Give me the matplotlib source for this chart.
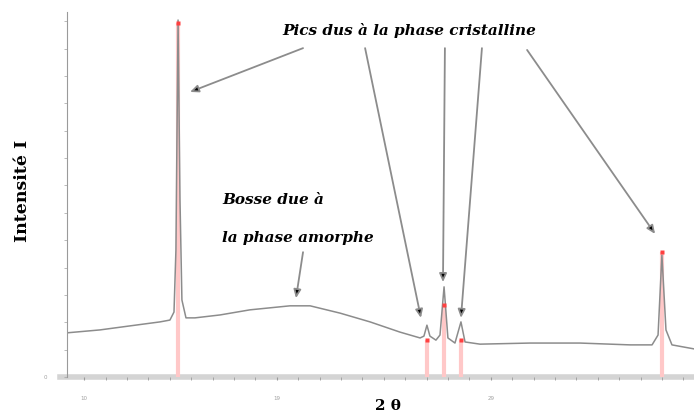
import numpy as np
import matplotlib.pyplot as plt
from matplotlib.ticker import FixedLocator, MultipleLocator

# diffractogramme : 2 theta (deg) et intensite (u.a.)
two_theta = [9.20, 10.74, 12.14, 13.55, 14.01, 14.20, 14.29, 14.39, 14.48, 14.57,
             14.76, 15.18, 16.35, 17.75, 19.62, 20.56, 21.96, 23.36, 24.76, 25.70,
             25.88, 26.02, 26.16, 26.44, 26.63, 26.82, 27.00, 27.33, 27.61, 27.80,
             28.50, 30.84, 33.17, 35.51, 36.54, 36.82, 37.00, 37.19, 37.47, 38.50]
intensity = [12.1, 12.9, 14.0, 15.1, 15.6, 17.8, 34.8, 97.8, 48.5, 21.1,
             16.2, 16.2, 17.0, 18.4, 19.5, 19.5, 17.5, 15.1, 12.3, 10.7,
             11.2, 14.2, 11.2, 10.1, 11.5, 24.7, 10.7, 9.3, 15.1, 9.6,
             9.0, 9.3, 9.3, 8.8, 8.8, 11.5, 33.4, 12.9, 8.8, 7.7]

# raies de reference (phase cristalline)
ref_pos = [14.39, 26.02, 26.82, 27.61, 37.00]
ref_int = [97.0, 10.2, 19.7, 10.2, 34.2]

xtick_pos = [10, 19, 29]
xtick_lab = ["10", "19", "29"]

plt.rcParams['font.family'] = ['DejaVu Sans']

W, H = 694, 415
fig = plt.figure(figsize=(W / 100, H / 100), dpi=100)
ax = fig.add_axes([67 / W, 1 - 377 / H, 1 - 67 / W, (377 - 12) / H])

ax.vlines(ref_pos, 0, ref_int, color='#ffc8c8', lw=3, zorder=1)
ax.plot(ref_pos, ref_int, 's', color='#ff4040', ms=2.5, mec='none', zorder=3)
ax.plot(two_theta, intensity, color='#8c8c8c', lw=1.1, zorder=2)

ax.set_xlim(9.2, 38.5)
ax.set_ylim(0, 100)

for side in ['top', 'right', 'bottom']:
    ax.spines[side].set_visible(False)
ax.spines['left'].set_color('#9a9a9a')
ax.axhline(0, color='#d4d4d4', lw=4, zorder=0, clip_on=False, xmin=-0.011)

ax.xaxis.set_major_locator(FixedLocator(xtick_pos))
ax.xaxis.set_minor_locator(MultipleLocator(1))
ax.set_xticklabels(xtick_lab)
ax.tick_params(axis='x', which='both', length=2, color='#9a9a9a', labelsize=4,
               labelcolor='#a0a0a0', pad=12)
ax.yaxis.set_major_locator(FixedLocator([0]))
ax.yaxis.set_minor_locator(MultipleLocator(7.5))
ax.tick_params(axis='y', which='both', length=2, color='#b0b0b0', labelsize=4,
               labelcolor='#a0a0a0', pad=12)

fig.text(388 / W, 1 - 406 / H, '2 θ', ha='center', va='center', fontsize=11,
         fontweight='bold', family=['DejaVu Serif'])
fig.text(23 / W, 1 - 191 / H, 'Intensité I', ha='center', va='center',
         rotation=90, fontsize=12.5, fontweight='bold', family=['DejaVu Serif'])

serif = dict(family=['DejaVu Serif'], style='italic', weight='bold', fontsize=11)
fig.text(282 / W, 1 - 31 / H, 'Pics dus à la phase cristalline', ha='left',
         va='center', **serif)
fig.text(222 / W, 1 - 200 / H, 'Bosse due à', ha='left', va='center', **serif)
fig.text(222 / W, 1 - 238 / H, 'la phase amorphe', ha='left', va='center', **serif)

arrow = dict(arrowstyle='-|>,head_length=0.5,head_width=0.22', ec='#8c8c8c',
             fc='black', lw=1.3, shrinkA=0, shrinkB=0)
starts = [(20.23, 90.1), (23.13, 90.1), (26.86, 90.1), (28.59, 90.1), (30.70, 89.6),
          (20.23, 34.2)]
ends = [(14.95, 78.1), (25.74, 16.2), (26.77, 26.0), (27.61, 16.2), (36.68, 39.2),
        (19.90, 21.6)]
for s, e in zip(starts, ends):
    ax.annotate('', xy=e, xytext=s, arrowprops=arrow)

fig.savefig('out.png', dpi=100)
